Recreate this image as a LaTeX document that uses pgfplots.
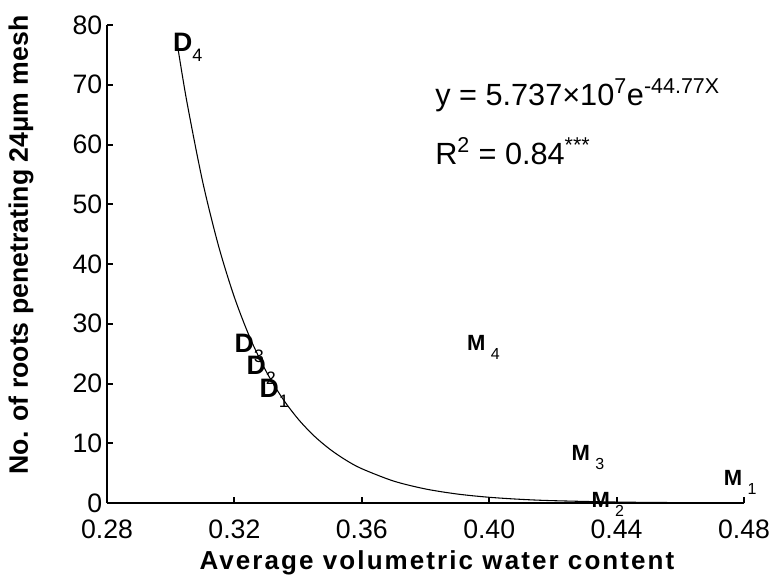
\documentclass[border=0pt]{standalone}
\usepackage{fontspec}
\setmainfont{Liberation Sans}
\usepackage{pgfplots}
\pgfplotsset{compat=1.18}
\newcommand{\Dl}[1]{{\fontsize{20}{20}\selectfont\bfseries D}\rlap{\smash{\raisebox{-8pt}{\fontsize{13.5}{13.5}\selectfont\mdseries #1}}}}
\newcommand{\Ml}[1]{{\fontsize{16.5}{16.5}\selectfont\bfseries M}\rlap{\kern4pt\smash{\raisebox{-7pt}{\fontsize{12}{12}\selectfont\mdseries #1}}}}
\begin{document}
\begin{tikzpicture}
\useasboundingbox (-80.25pt,-54.75pt) rectangle (497.25pt,377.25pt);
\begin{axis}[
  at={(0,0)}, anchor=south west,
  width=477.75pt, height=358.5pt, scale only axis,
  xmin=0.28, xmax=0.48, ymin=0, ymax=80,
  axis x line=bottom, axis y line=left,
  axis line style={line width=1.8pt, -},
  tick align=inside, major tick length=4.5pt,
  tick style={line width=1.5pt, black},
  xtick={0.28,0.32,0.36,0.40,0.44,0.48},
  xticklabels={0.28,0.32,0.36,0.40,0.44,0.48},
  ytick={0,10,20,30,40,50,60,70,80},
  yticklabels={0,10,20,30,40,50,60,70,80},
  ticklabel style={font=\fontsize{20}{22}\selectfont},
  xticklabel style={yshift=-9pt},
  xlabel={Average volumetric water content},
  xlabel style={at={(axis description cs:0.518,-0.125)}, anchor=center,
    font=\fontsize{19.5}{21}\selectfont\bfseries\addfontfeature{LetterSpace=8}},
  ylabel={No. of roots penetrating 24μm mesh},
  ylabel style={at={(axis description cs:-0.135,0.54)}, anchor=center,
    font=\fontsize{20}{21}\selectfont\bfseries},
  clip=false,
]
\addplot[black, line width=0.8pt, smooth] coordinates {
(0.302,77.06) (0.305,67.38) (0.31,53.86) (0.315,43.06) (0.32,34.43)
(0.325,27.52) (0.33,22.00) (0.335,17.59) (0.34,14.06) (0.345,11.24)
(0.35,8.99) (0.355,7.18) (0.36,5.74) (0.37,3.67) (0.38,2.35)
(0.39,1.50) (0.40,0.958) (0.41,0.612) (0.42,0.391) (0.44,0.160)
(0.46,0.0653) (0.48,0.0267)
};
\addplot[only marks, mark=none, nodes near coords, point meta=explicit symbolic,
  nodes near coords style={anchor=center, inner sep=0pt}]
coordinates {
(0.30375,77.15) [\Dl{4}]
(0.32313,26.78) [\Dl{3}]
(0.32688,23.10) [\Dl{2}]
(0.33094,19.25) [\Dl{1}]
};
\addplot[only marks, mark=none, nodes near coords, point meta=explicit symbolic,
  nodes near coords style={anchor=center, inner sep=0pt}]
coordinates {
(0.39594,26.78) [\Ml{4}]
(0.42875,8.37) [\Ml{3}]
(0.43500,0.50) [\Ml{2}]
(0.47656,4.18) [\Ml{1}]
};
\node[anchor=base west, inner sep=0pt, font=\fontsize{23}{24}\selectfont] at (axis cs:0.383,66.6)
  {y = 5.737\texttimes10\textsuperscript{7}e\textsuperscript{-44.77X}};
\node[anchor=base west, inner sep=0pt, font=\fontsize{23}{24}\selectfont] at (axis cs:0.383,56.6)
  {R\textsuperscript{2} = 0.84\textsuperscript{***}};
\end{axis}
\end{tikzpicture}
\end{document}
